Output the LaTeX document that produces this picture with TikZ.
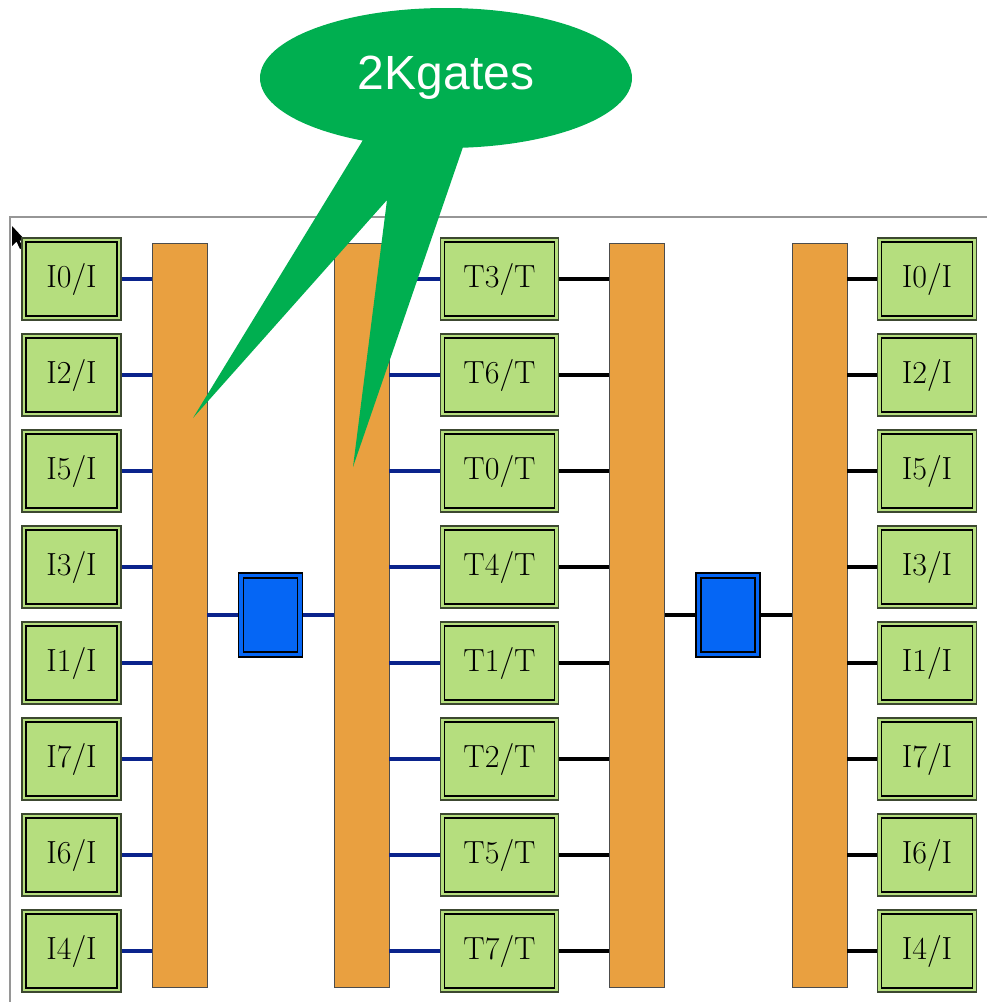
\documentclass[tikz,border=0pt]{standalone}
\usepackage{fontspec}
\newfontfamily\bubblefont{Liberation Sans}
\usepackage{tikz}
\usetikzlibrary{shapes.geometric,calc}
\definecolor{boxgreen}{RGB}{181,222,126}
\definecolor{boxedge}{RGB}{60,72,48}
\definecolor{barorange}{RGB}{233,160,64}
\definecolor{regblue}{RGB}{5,102,245}
\definecolor{wirenavy}{RGB}{10,35,140}
\definecolor{bubblegreen}{RGB}{0,175,80}
\definecolor{framegray}{RGB}{150,150,150}
\tikzset{
  iobox/.style={draw=boxedge, line width=1.8pt, fill=boxgreen, inner sep=0pt,
    minimum width=99pt, minimum height=82pt, font=\fontsize{32}{36}\selectfont,
    path picture={\draw[black, line width=1.5pt]
      ([shift={(4pt,-4pt)}]path picture bounding box.north west) rectangle
      ([shift={(-4pt,4pt)}]path picture bounding box.south east);}},
  busbar/.style={draw=black!70, line width=0.8pt, fill=barorange, inner sep=0pt,
    minimum width=55pt, minimum height=744pt},
  regbox/.style={draw=black, line width=1.2pt, fill=regblue, inner sep=0pt,
    minimum width=64pt, minimum height=84pt,
    path picture={\draw[black, line width=1.2pt]
      ([shift={(5pt,-5pt)}]path picture bounding box.north west) rectangle
      ([shift={(-5pt,5pt)}]path picture bounding box.south east);}},
  navywire/.style={wirenavy, line width=4pt},
  blackwire/.style={black, line width=4pt},
  bubble/.style={ellipse, fill=bubblegreen, text=white, minimum width=372pt,
    minimum height=140pt, font=\bubblefont\fontsize{48}{52}\selectfont}
}

\begin{document}
\begin{tikzpicture}[x=1pt, y=-1pt]
\useasboundingbox (0,0) rectangle (987,1002);
% frame and pointer
\draw[framegray, line width=2pt] (10,1002) -- (10,217) -- (987,217);
\fill[black] (12,226) -- (12,246) -- (16.5,241.5) -- (20,249) -- (23,247.5) -- (19.5,240.5) -- (25.5,240.5) -- cycle;

% bus bars and registers
\node[busbar] (bar1) at (179.5,615) {};
\node[busbar] (bar2) at (361.5,615) {};
\node[busbar] (bar3) at (637,615) {};
\node[busbar] (bar4) at (819.5,615) {};
\node[regbox] (reg1) at (270.5,615) {};
\node[regbox] (reg2) at (728,615) {};

\draw[navywire] (bar1.east) -- (reg1.west);
\draw[navywire] (reg1.east) -- (bar2.west);
\draw[blackwire] (bar3.east) -- (reg2.west);
\draw[blackwire] (reg2.east) -- (bar4.west);

% inputs
\foreach \lbl [count=\i from 0] in {I0,I2,I5,I3,I1,I7,I6,I4} {
  \node[iobox] (in\i) at (71.5,{279+96*\i}) {\lbl/I};
  \draw[navywire] (in\i.east) -- (in\i.east -| bar1.west);
}
% middle stage
\foreach \lbl [count=\i from 0] in {T3,T6,T0,T4,T1,T2,T5,T7} {
  \node[iobox, minimum width=118pt] (tk\i) at (499.5,{279+96*\i}) {\lbl/T};
  \draw[navywire] (tk\i.west) -- (tk\i.west -| bar2.east);
  \draw[blackwire] (tk\i.east) -- (tk\i.east -| bar3.west);
}
% outputs
\foreach \lbl [count=\i from 0] in {I0,I2,I5,I3,I1,I7,I6,I4} {
  \node[iobox] (out\i) at (927,{279+96*\i}) {\lbl/I};
  \draw[blackwire] (out\i.west) -- (out\i.west -| bar4.east);
}

% callout
\fill[bubblegreen] (363,140) -- (193,418) -- (387,200) -- (353,467) -- (463,147) -- cycle;
\node[bubble] (gates) at (446,78) {2Kgates};
\end{tikzpicture}
\end{document}
